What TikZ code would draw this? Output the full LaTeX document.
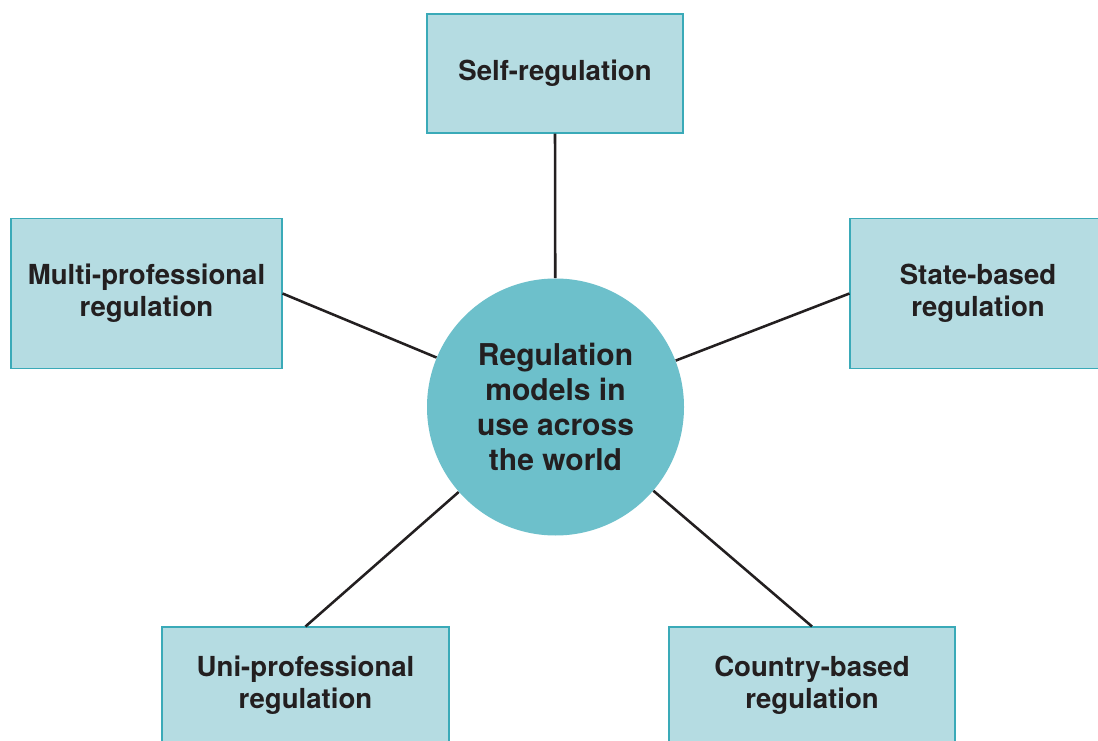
\documentclass[tikz,border=0pt]{standalone}
\usepackage{fontspec}
\setmainfont{TeX Gyre Heros}
\definecolor{boxfill}{HTML}{B5DCE2}
\definecolor{boxline}{HTML}{3AAAB8}
\definecolor{hubfill}{HTML}{6DC0CB}
\definecolor{ink}{HTML}{231F20}
\begin{document}
\begin{tikzpicture}[
  model/.style={draw=boxline,line width=0.6pt,fill=boxfill,inner sep=0pt,align=center,
    text=ink,font=\fontsize{15.7}{18.2}\selectfont\bfseries},
  hub/.style={circle,fill=hubfill,inner sep=0pt,minimum size=5.14cm,align=center,
    text=ink,font=\fontsize{17.1}{20}\selectfont\bfseries},
  link/.style={draw=ink,line width=1.45pt}]
\clip (0,0) rectangle (21.96,14.8);
\fill[white] (0,0) rectangle (21.96,14.8);

\node[hub] (hub) at (11.11,6.66) {Regulation\\models in\\use across\\the world};

\node[model,minimum width=5.12cm,minimum height=2.38cm] (self) at (11.10,13.33) {Self-regulation};
\node[model,minimum width=5.42cm,minimum height=3.0cm] (multi) at (2.93,8.93) {Multi-professional\\regulation};
\node[model,minimum width=5.12cm,minimum height=3.0cm] (state) at (19.56,8.93) {State-based\\regulation};
\node[model,minimum width=5.74cm,minimum height=2.32cm] (uni) at (6.11,1.1) {Uni-professional\\regulation};
\node[model,minimum width=5.72cm,minimum height=2.32cm] (country) at (16.24,1.1) {Country-based\\regulation};

\path[link] (self.south) -- (hub);
\path[link] (multi.east) -- (hub);
\path[link] (state.west) -- (hub);
\path[link] (uni.north) -- (hub);
\path[link] (country.north) -- (hub);
\end{tikzpicture}
\end{document}
